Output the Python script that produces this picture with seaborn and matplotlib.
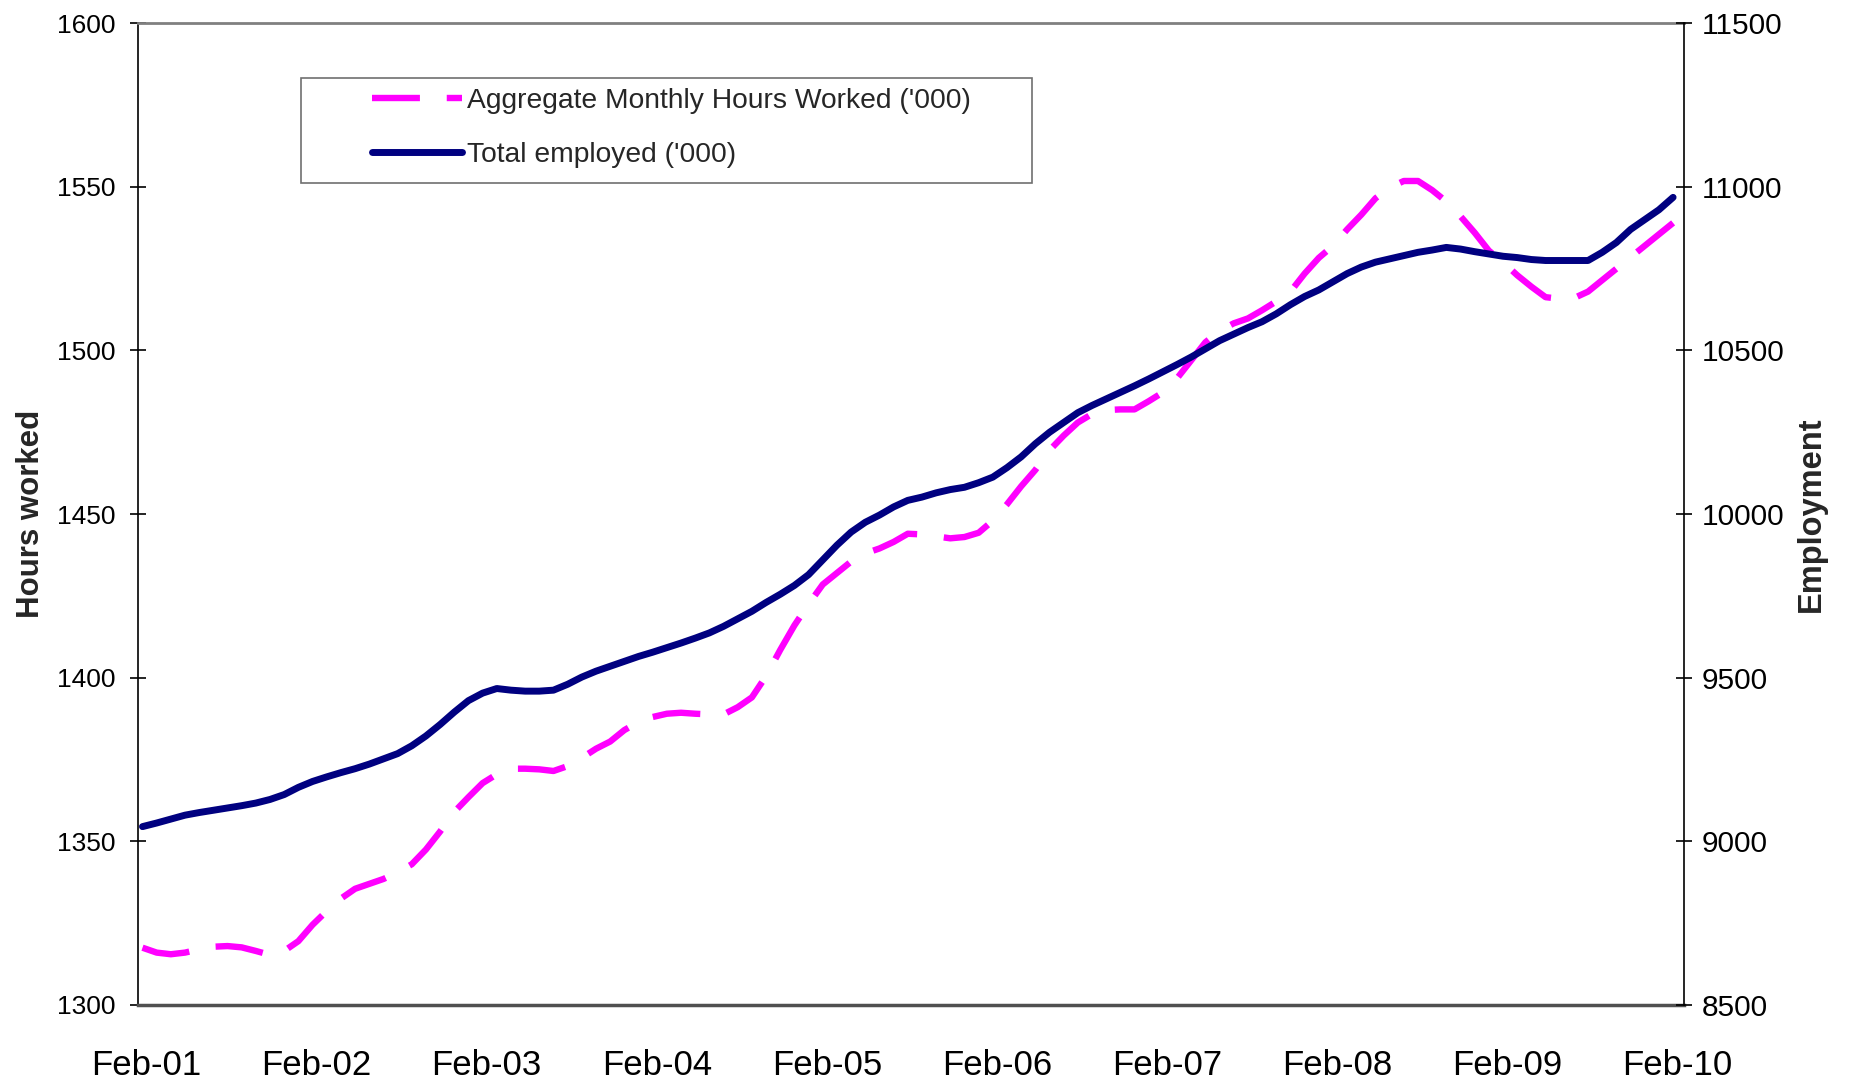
import matplotlib
matplotlib.use('Agg')
import matplotlib.pyplot as plt
from matplotlib.patches import Rectangle
from matplotlib.transforms import ScaledTranslation
import seaborn as sns
import pandas as pd
import numpy as np

# monthly series, Feb-01 .. Feb-10
hours = [1317.5, 1316.0, 1315.5, 1316.0, 1317.0, 1317.8, 1318.0, 1317.6, 1316.5, 1315.3,
         1316.5, 1319.5, 1324.5, 1328.7, 1332.5, 1335.5, 1337.0, 1338.5, 1340.5, 1343.0,
         1347.5, 1353.0, 1359.0, 1363.5, 1367.8, 1370.5, 1372.2, 1372.2, 1372.0, 1371.5,
         1373.0, 1375.5, 1378.3, 1380.5, 1384.0, 1386.5, 1388.0, 1389.0, 1389.3, 1389.0,
         1388.8, 1388.8, 1391.0, 1394.0, 1400.5, 1408.5, 1416.0, 1422.5, 1428.5, 1432.0,
         1435.5, 1438.0, 1439.5, 1441.5, 1444.0, 1443.8, 1443.2, 1442.6, 1443.0, 1444.3,
         1448.0, 1453.0, 1458.5, 1463.5, 1469.5, 1474.0, 1478.0, 1480.6, 1481.8, 1482.0,
         1482.0, 1484.5, 1487.2, 1491.5, 1497.0, 1502.5, 1506.0, 1508.3, 1509.8, 1512.3,
         1515.0, 1518.0, 1523.5, 1528.3, 1532.0, 1537.0, 1541.5, 1546.5, 1549.8, 1551.8,
         1551.8, 1549.0, 1545.5, 1541.0, 1536.0, 1530.5, 1527.0, 1523.0, 1519.5, 1516.3,
         1515.8, 1516.0, 1518.0, 1521.5, 1525.0, 1528.5, 1532.0, 1535.5, 1539.0]

employed = [9045, 9056, 9068, 9080, 9088, 9095, 9102, 9109, 9117, 9128,
            9143, 9165, 9183, 9197, 9210, 9222, 9236, 9252, 9268, 9292,
            9322, 9357, 9395, 9430, 9453, 9467, 9462, 9459, 9459, 9462,
            9480, 9502, 9520, 9535, 9550, 9565, 9578, 9592, 9606, 9621,
            9637, 9657, 9680, 9703, 9730, 9755, 9782, 9815, 9860, 9905,
            9945, 9975, 9997, 10022, 10042, 10052, 10065, 10075, 10082, 10096,
            10113, 10142, 10175, 10215, 10250, 10280, 10310, 10332, 10352, 10372,
            10392, 10413, 10435, 10457, 10480, 10505, 10530, 10550, 10570, 10588,
            10612, 10640, 10665, 10685, 10710, 10735, 10755, 10770, 10780, 10790,
            10800, 10807, 10815, 10810, 10802, 10795, 10788, 10784, 10778, 10775,
            10775, 10775, 10775, 10800, 10830, 10870, 10900, 10930, 10968]

tick_labels = ['Feb-01', 'Feb-02', 'Feb-03', 'Feb-04', 'Feb-05',
               'Feb-06', 'Feb-07', 'Feb-08', 'Feb-09', 'Feb-10']

hours_label = "Aggregate Monthly Hours Worked ('000)"
employed_label = "Total employed ('000)"

df = pd.DataFrame({'month': np.arange(len(hours)), 'hours': hours, 'employed': employed})

sns.set_style('white')
plt.rcParams['font.family'] = ['Liberation Sans', 'DejaVu Sans']

fig = plt.figure(figsize=(18.53, 10.82), dpi=100)
ax = fig.add_axes([0.0746, 0.0712, 0.9088 - 0.0746, 0.9785 - 0.0712])
ax2 = ax.twinx()

sns.lineplot(data=df, x='month', y='hours', ax=ax, color='#FF00FF', lw=4.6,
             linestyle=(0, (7.5, 4.2)), dash_capstyle='butt', legend=False,
             label=hours_label)
sns.lineplot(data=df, x='month', y='employed', ax=ax2, color='#000080', lw=5,
             solid_capstyle='round', legend=False, label=employed_label)

# axes ranges
ax.set_xlim(-0.3, 108.77)
ax.set_ylim(1300, 1600)
ax2.set_ylim(8500, 11500)
ax.set_xticks(np.arange(0, 109, 12) - 0.28)
ax.set_xticklabels(tick_labels)
ax.set_yticks(np.arange(1300, 1601, 50))
ax2.set_yticks(np.arange(8500, 11501, 500))

ax.set_xlabel('')
ax.set_ylabel('Hours worked', fontsize=22.5, fontweight='bold', labelpad=8)
ax2.set_ylabel('Employment', fontsize=23.5, fontweight='bold', labelpad=8)

ax.tick_params(axis='x', direction='inout', length=18, width=1.2, colors='black',
               labelsize=25, pad=23)
ax.tick_params(axis='y', direction='inout', length=11, width=1.2, colors='black',
               labelsize=19, pad=11)
ax2.tick_params(axis='y', direction='inout', length=12, width=1.2, colors='black',
                labelsize=21.5, pad=7)

# labels sit a little right of their ticks in the original
shift = ScaledTranslation(8 / 100, 0, fig.dpi_scale_trans)
for lab in ax.get_xticklabels():
    lab.set_transform(lab.get_transform() + shift)

# spines
ax.spines['left'].set_color('black')
ax.spines['left'].set_linewidth(1.2)
ax.spines['top'].set_color('#808080')
ax.spines['top'].set_linewidth(2)
ax.spines['bottom'].set_color('#505050')
ax.spines['bottom'].set_linewidth(2.5)
ax.spines['right'].set_visible(False)
for s in ['left', 'top', 'bottom']:
    ax2.spines[s].set_visible(False)
ax2.spines['right'].set_color('black')
ax2.spines['right'].set_linewidth(1.2)

# legend (box drawn separately)
handles = [ax.lines[0], ax2.lines[0]]
fig.legend(handles=handles, labels=[hours_label, employed_label],
           loc='center left', bbox_to_anchor=(358 / 1853, 1 - 128 / 1082),
           bbox_transform=fig.transFigure, frameon=False, fontsize=20.3,
           handlelength=3.2, handletextpad=0.15, labelspacing=1.0, borderpad=0)
fig.add_artist(Rectangle((301 / 1853, 1 - 183 / 1082), (1032 - 301) / 1853, (183 - 78) / 1082,
                         transform=fig.transFigure, fill=False, edgecolor='#707070', lw=1.2))

fig.savefig('out.png', dpi=100)
